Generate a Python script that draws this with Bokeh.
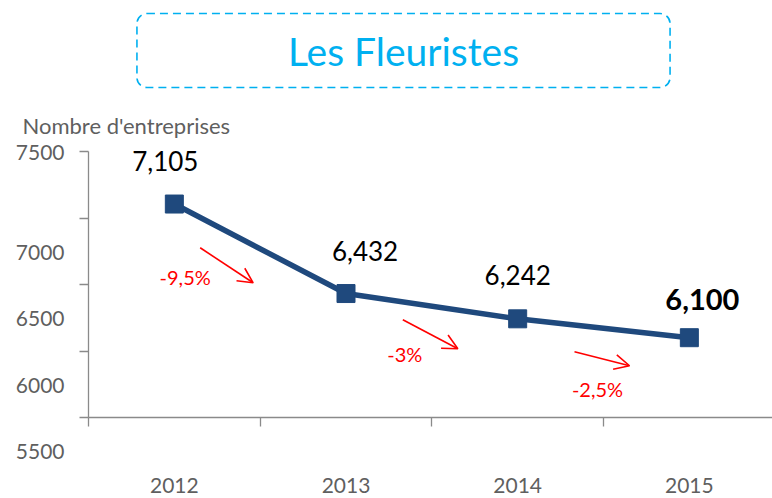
from bokeh.plotting import figure
from bokeh.models import Range1d, FixedTicker, Label, Arrow, OpenHead, ColumnDataSource
from bokeh.core.properties import value
from bokeh.embed import file_html
from bokeh.resources import INLINE

# ---- data ----
years = ["2012", "2013", "2014", "2015"]
entreprises = [7105, 6432, 6242, 6100]
value_labels = ["7,105", "6,432", "6,242", "6,100"]
variations = ["-9,5%", "-3%", "-2,5%"]
y_ticks = [5500, 6000, 6500, 7000, 7500]
y_tick_labels = ["5500", "6000", "6500", "7000", "7500"]
title_text = "Les Fleuristes"
y_title = "Nombre d'entreprises"

# ---- layout / style ----
FONT = "Lato"
BLUE = "#1F497D"
GREY_TXT = "#5f5f5f"
GREY_AX = "#8a8a8a"
RED = "#FF0000"
CYAN = "#00B0F0"

W, H = 772, 498
AXIS_X_PX = 88          # pixel column of the value axis
AXIS_Y_PX = 417         # pixel row of the category axis
PX_X = 171.67           # pixels per category
PX_Y = 266 / 2000       # pixels per company
X_LEFT = -0.5
Y_BOTTOM = y_ticks[0]
X0 = X_LEFT - AXIS_X_PX / PX_X
X1 = X0 + W / PX_X
Y0 = Y_BOTTOM - (H - AXIS_Y_PX) / PX_Y
Y1 = Y0 + H / PX_Y

p = figure(width=W, height=H, x_range=Range1d(X0, X1), y_range=Range1d(Y0, Y1),
           output_backend="svg", toolbar_location=None,
           min_border_left=0, min_border_right=0, min_border_top=0, min_border_bottom=0)
p.outline_line_color = None
p.grid.grid_line_color = None
p.background_fill_color = "white"
p.border_fill_color = "white"

# ---- axes ----
xs = list(range(len(years)))
xa = p.xaxis[0]
xa.fixed_location = Y_BOTTOM
xa.bounds = (X_LEFT, X1)
xa.ticker = FixedTicker(ticks=xs, minor_ticks=[i - 0.5 for i in xs])
xa.major_label_overrides = {i: y for i, y in zip(xs, years)}
xa.major_tick_out = 0
xa.major_tick_in = 0
xa.minor_tick_out = 9
xa.minor_tick_in = 0
xa.axis_line_color = GREY_AX
xa.minor_tick_line_color = GREY_AX
xa.axis_line_width = 1.3
xa.minor_tick_line_width = 1.3
xa.major_label_standoff = 51
xa.major_label_text_font = FONT
xa.major_label_text_font_size = "21px"
xa.major_label_text_color = GREY_TXT

ya = p.yaxis[0]
ya.fixed_location = X_LEFT
ya.bounds = (y_ticks[0], y_ticks[-1])
ya.ticker = FixedTicker(ticks=y_ticks)
top = max(y_ticks)
ya.major_label_overrides = {t: (l if t == top else "\n\n\n" + l) for t, l in zip(y_ticks, y_tick_labels)}
ya.major_label_text_line_height = 0.89
ya.minor_tick_line_color = None
ya.major_tick_out = 9
ya.major_tick_in = 0
ya.axis_line_color = GREY_AX
ya.major_tick_line_color = GREY_AX
ya.axis_line_width = 1.3
ya.major_tick_line_width = 1.3
ya.major_label_standoff = 15
ya.major_label_text_font = FONT
ya.major_label_text_font_size = "21px"
ya.major_label_text_color = GREY_TXT

# ---- series ----
n = len(entreprises)
lbl_dx = [-9, 19, 0, 13]
lbl_dy = [-43, -43, -44, -38]
styles = ["bold" if i == n - 1 else "normal" for i in range(n)]
sizes = ["29px" if i == n - 1 else "26px" for i in range(n)]
src = ColumnDataSource(dict(x=xs, y=entreprises, lbl=value_labels, style=styles,
                            size=sizes, dx=lbl_dx, dy=lbl_dy))
p.line("x", "y", source=src, line_color=BLUE, line_width=5.5)
p.scatter("x", "y", source=src, marker="square", size=18, color=BLUE)
p.text("x", "y", text="lbl", source=src, x_offset="dx", y_offset="dy",
       text_font=value(FONT), text_font_size="size", text_font_style="style",
       text_color="black", text_align="center", text_baseline="middle")

# ---- variation annotations (pixel offsets from segment midpoints, y down) ----
arrow_off = [(-60, -1, -7, 34), (-29, 13.5, 26, 42.5), (-29, 23.5, 26, 37.5)]
label_off = [(-75, 28), (-27, 47.5), (-6, 60.5)]
for i, txt in enumerate(variations):
    mx = xs[i] + 0.5
    my = (entreprises[i] + entreprises[i + 1]) / 2
    sx0, sy0, sx1, sy1 = arrow_off[i]
    p.add_layout(Arrow(end=OpenHead(size=15, line_color=RED, line_width=1.6),
                       x_start=mx + sx0 / PX_X, y_start=my - sy0 / PX_Y,
                       x_end=mx + sx1 / PX_X, y_end=my - sy1 / PX_Y,
                       line_color=RED, line_width=1.6))
    lx, ly = label_off[i]
    p.add_layout(Label(x=mx, y=my, x_offset=lx, y_offset=-ly, text=txt,
                       text_font=FONT, text_font_size="20px", text_color=RED,
                       text_align="center", text_baseline="middle"))

# ---- title box and y title (offsets from the top-left corner) ----
p.add_layout(Label(x=X0, y=Y1, x_offset=403, y_offset=-50, text=title_text,
                   text_font=FONT, text_font_size="39px", text_color=CYAN,
                   text_align="center", text_baseline="middle",
                   border_line_color=CYAN, border_line_dash="8 5", border_line_width=1.6,
                   background_fill_color="white", border_radius=10,
                   padding=dict(left=151, right=151, top=14, bottom=14)))
p.add_layout(Label(x=X0, y=Y1, x_offset=22, y_offset=-125, text=y_title,
                   text_font=FONT, text_font_size="22px", text_color=GREY_TXT,
                   text_align="left", text_baseline="alphabetic"))

open("out.html", "w").write(file_html(p, INLINE))
